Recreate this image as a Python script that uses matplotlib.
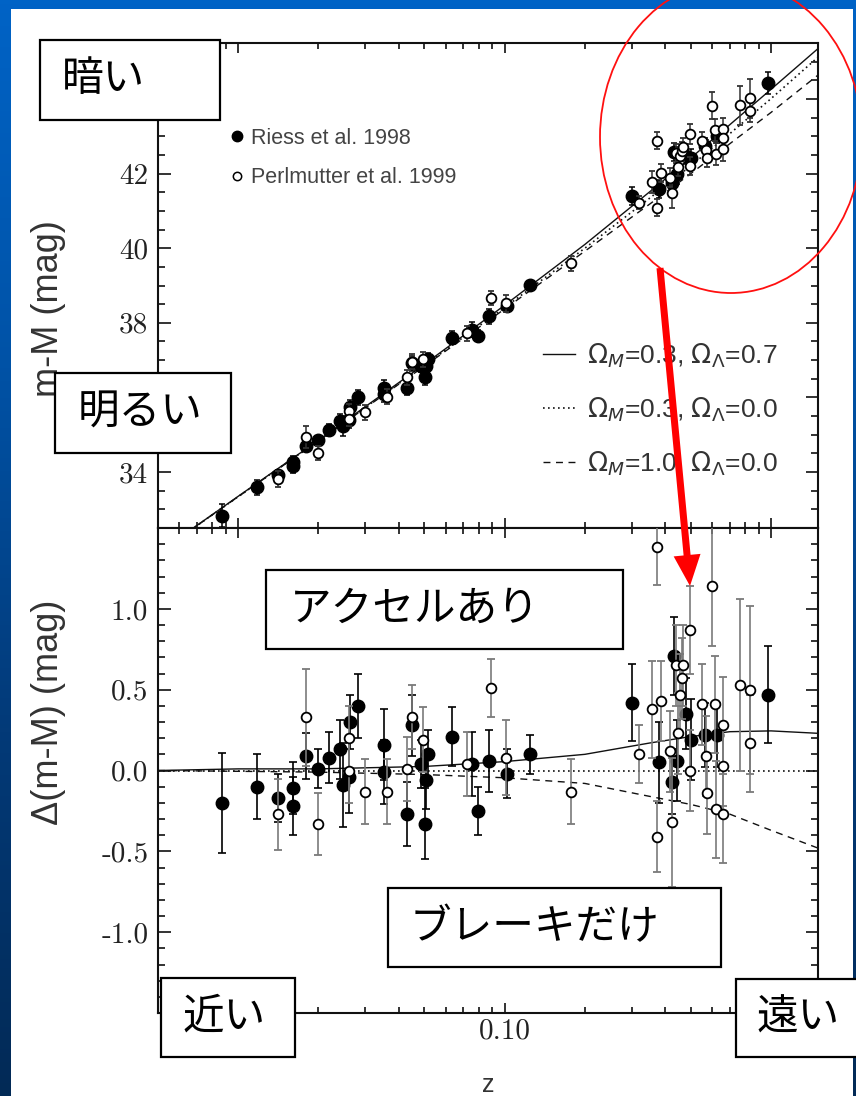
import numpy as np
import matplotlib
matplotlib.use('Agg')
import matplotlib.pyplot as plt
from matplotlib import patches, transforms
from matplotlib.lines import Line2D
from matplotlib.colors import LinearSegmentedColormap
from matplotlib.ticker import FixedLocator, MultipleLocator, NullFormatter, FixedFormatter, LogLocator

# ---------------- data ----------------
riess_z = [0.0087, 0.0118, 0.0141, 0.0161, 0.0161, 0.0180, 0.0200, 0.0219, 0.0241, 0.0248,
           0.0261, 0.0263, 0.0282, 0.0353, 0.0354, 0.0430, 0.0450, 0.0486, 0.0503, 0.0507,
           0.0516, 0.0635, 0.0755, 0.0795, 0.0875, 0.1022, 0.1247, 0.301, 0.380, 0.425,
           0.4325, 0.444, 0.480, 0.501, 0.565, 0.627, 0.974]
riess_mu = [32.83, 33.59, 33.91, 34.26, 34.15, 34.70, 34.85, 35.12, 35.38, 35.23,
            35.39, 35.75, 36.00, 36.25, 36.09, 36.26, 36.91, 36.84, 36.55, 36.83,
            37.03, 37.60, 37.82, 37.65, 38.17, 38.44, 39.01, 41.39, 41.59, 41.74,
            42.57, 41.98, 42.47, 42.41, 42.75, 43.01, 44.42]
riess_dmu = [-0.20, -0.10, -0.17, -0.11, -0.22, 0.09, 0.01, 0.08, 0.13, -0.09,
             -0.04, 0.30, 0.40, 0.16, -0.01, -0.27, 0.28, 0.04, -0.33, -0.06,
             0.10, 0.21, 0.04, -0.25, 0.06, -0.02, 0.10, 0.42, 0.05, -0.07,
             0.71, 0.06, 0.35, 0.19, 0.22, 0.22, 0.47]
riess_err = [0.31, 0.20, 0.15, 0.16, 0.18, 0.14, 0.12, 0.16, 0.18, 0.26,
             0.22, 0.17, 0.20, 0.22, 0.20, 0.20, 0.19, 0.15, 0.22, 0.18,
             0.15, 0.18, 0.20, 0.15, 0.19, 0.15, 0.12, 0.24, 0.25, 0.20,
             0.24, 0.25, 0.22, 0.25, 0.20, 0.20, 0.30]

perl_z = [0.0141, 0.0180, 0.0200, 0.0261, 0.0261, 0.0300, 0.0362, 0.0430, 0.0450, 0.0494,
          0.0723, 0.0890, 0.1013, 0.1776, 0.320, 0.358, 0.373, 0.373, 0.387, 0.418,
          0.425, 0.4385, 0.448, 0.455, 0.463, 0.4675, 0.496, 0.4966, 0.551, 0.570,
          0.575, 0.6005, 0.6166, 0.622, 0.658, 0.658, 0.658, 0.765, 0.834, 0.834]
perl_mu = [33.81, 34.94, 34.51, 35.63, 35.43, 35.60, 36.02, 36.54, 36.96, 37.02,
           37.72, 38.66, 38.52, 39.60, 41.22, 41.77, 42.88, 41.09, 42.02, 41.89,
           41.49, 42.54, 42.18, 42.46, 42.60, 42.70, 42.20, 43.07, 42.87, 42.64,
           42.43, 43.82, 43.16, 42.53, 43.20, 42.95, 42.65, 43.83, 44.02, 43.69]
perl_dmu = [-0.27, 0.33, -0.33, 0.20, 0.00, -0.13, -0.13, 0.01, 0.33, 0.19,
            0.04, 0.51, 0.08, -0.13, 0.10, 0.38, 1.38, -0.41, 0.43, 0.12,
            -0.32, 0.65, 0.23, 0.47, 0.57, 0.65, 0.00, 0.87, 0.41, 0.09,
            -0.14, 1.14, 0.41, -0.24, 0.28, 0.03, -0.27, 0.53, 0.50, 0.17]
perl_err = [0.22, 0.30, 0.19, 0.20, 0.20, 0.20, 0.20, 0.20, 0.20, 0.20,
            0.20, 0.18, 0.23, 0.20, 0.18, 0.30, 0.23, 0.22, 0.25, 0.25,
            0.40, 0.25, 0.25, 0.25, 0.25, 0.25, 0.25, 0.27, 0.25, 0.25,
            0.25, 0.37, 0.30, 0.30, 0.30, 0.25, 0.30, 0.53, 0.52, 0.30]

model_z = [0.005, 0.01, 0.02, 0.05, 0.1, 0.2, 0.35, 0.5, 0.7, 1.0, 1.5]
mu_lcdm = [31.83, 33.35, 34.85, 36.89, 38.47, 40.10, 41.51, 42.42, 43.31, 44.26, 45.35]
mu_open = [31.83, 33.34, 34.84, 36.86, 38.41, 40.00, 41.34, 42.21, 43.07, 44.01, 45.12]
mu_eds = [31.83, 33.34, 34.83, 36.84, 38.37, 39.92, 41.18, 42.00, 42.80, 43.64, 44.64]
d_lcdm = [0.0, 0.01, 0.01, 0.025, 0.055, 0.10, 0.17, 0.21, 0.24, 0.245, 0.23]
d_open = [0.0, 0.0, 0.0, 0.0, 0.0, 0.0, 0.0, 0.0, 0.0, 0.0, 0.0]
d_eds = [0.0, -0.005, -0.01, -0.025, -0.045, -0.08, -0.16, -0.21, -0.27, -0.37, -0.48]

data_labels = ['Riess et al. 1998', 'Perlmutter et al. 1999']
model_labels = [r'$\Omega_M$=0.3, $\Omega_\Lambda$=0.7',
                r'$\Omega_M$=0.3, $\Omega_\Lambda$=0.0',
                r'$\Omega_M$=1.0, $\Omega_\Lambda$=0.0']
xtick_vals = [0.01, 0.1, 1.0]
xtick_labels = ['', '0.10', '']          # 0.01 and 1.00 sit under the slide boxes
top_yticks = [34, 36, 38, 40, 42, 44]
top_yticklabels = ['34', '', '38', '40', '42', '']   # 36 and 44 sit under the slide boxes
bot_yticks = [-1.0, -0.5, 0.0, 0.5, 1.0]
bot_yticklabels = ['-1.0', '-0.5', '0.0', '0.5', '1.0']

notes = ['暗い', '明るい', 'アクセルあり', 'ブレーキだけ', '近い', '遠い']

# ---------------- figure ----------------
W, H = 856, 1096
plt.rcParams['axes.unicode_minus'] = False
plt.rcParams['mathtext.fontset'] = 'dejavusans'

fig = plt.figure(figsize=(W / 100, H / 100), dpi=100)

def fx(px):
    return px / W

def fy(py):
    return 1 - py / H

# blue slide background
bg = fig.add_axes([0, 0, 1, 1], zorder=-10)
grad = np.linspace(0, 1, 256).reshape(-1, 1)
cmap = LinearSegmentedColormap.from_list('bg', ['#0063c6', '#0052a6', '#033a78', '#022a56'])
bg.imshow(grad, aspect='auto', cmap=cmap, extent=[0, 1, 0, 1], origin='upper')
bg.set_axis_off()

fig.add_artist(patches.Rectangle((fx(11), 0), fx(853) - fx(11), fy(9),
                                 transform=fig.transFigure, facecolor='white',
                                 edgecolor='none', zorder=-5))

axw = fx(818) - fx(158)
axh = 485 / H
ax1 = fig.add_axes([fx(158), fy(528), axw, axh])
ax2 = fig.add_axes([fx(158), fy(1013), axw, axh])

ink = '#111111'
tickfont = 'cmr10'
for ax in (ax1, ax2):
    ax.set_xscale('log')
    ax.set_xlim(0.005, 1.5)
    for s in ax.spines.values():
        s.set_linewidth(1.5)
        s.set_color(ink)
    ax.tick_params(which='both', direction='in', top=True, right=True, bottom=True, left=True,
                   color=ink, width=1.2, labelsize=21, labelfontfamily=tickfont, labelcolor='#222222')
    ax.tick_params(axis='y', which='major', length=9, pad=7)
    ax.tick_params(axis='y', which='minor', length=5)
    ax.tick_params(axis='x', which='major', length=7)
    ax.tick_params(axis='x', which='minor', length=4)
    ax.xaxis.set_major_locator(FixedLocator(xtick_vals))
    ax.xaxis.set_minor_locator(LogLocator(base=10, subs=np.arange(2, 10), numticks=20))
    ax.xaxis.set_minor_formatter(NullFormatter())

ax1.xaxis.set_major_formatter(NullFormatter())
ax2.xaxis.set_major_formatter(FixedFormatter(xtick_labels))

# ----- top panel -----
ax1.set_ylim(32.5, 45.5)
ax1.yaxis.set_major_locator(FixedLocator(top_yticks))
ax1.yaxis.set_minor_locator(MultipleLocator(0.5))
ax1.yaxis.set_major_formatter(FixedFormatter(top_yticklabels))

ax1.plot(model_z, mu_lcdm, color=ink, lw=1.0, ls='-')
ax1.plot(model_z, mu_open, color=ink, lw=1.2, ls=(0, (1, 2)))
ax1.plot(model_z, mu_eds, color=ink, lw=1.0, ls=(0, (5, 4)))

ax1.errorbar(riess_z, riess_mu, yerr=riess_err, fmt='o', ms=9, mfc='k', mec='k',
             ecolor='k', elinewidth=1.1, capsize=2.5, capthick=1.1, zorder=3)
ax1.errorbar(perl_z, perl_mu, yerr=perl_err, fmt='o', ms=7, mfc='white', mec='k', mew=1.3,
             ecolor='#333333', elinewidth=1.1, capsize=2.5, capthick=1.1, zorder=4)

ax1.set_ylabel('m-M (mag)', fontsize=26, fontfamily='Liberation Sans', color='#333333')
ax1.yaxis.set_label_coords((66 - 158) / 660, 1 - (309 - 43) / 485)

h_data = [Line2D([], [], ls='', marker='o', ms=7.5, mfc='k', mec='k'),
          Line2D([], [], ls='', marker='o', ms=6, mfc='white', mec='k', mew=1.1)]
leg1 = ax1.legend(h_data, data_labels, loc='upper left', frameon=False,
                  bbox_to_anchor=(fx(231), fy(128)), bbox_transform=fig.transFigure,
                  borderpad=0, borderaxespad=0, handlelength=0.6, handletextpad=0.35,
                  labelspacing=0.85, prop={'family': 'Liberation Sans', 'size': 15.5})
for t in leg1.get_texts():
    t.set_color('#444444')
ax1.add_artist(leg1)

h_model = [Line2D([], [], color=ink, lw=1.0, ls='-'),
           Line2D([], [], color=ink, lw=1.2, ls=(0, (1, 2))),
           Line2D([], [], color=ink, lw=1.0, ls=(0, (5, 4)))]
leg2 = ax1.legend(h_model, model_labels, loc='upper left', frameon=False,
                  bbox_to_anchor=(fx(543), fy(341)), bbox_transform=fig.transFigure,
                  borderpad=0, borderaxespad=0, handlelength=1.2, handletextpad=0.45,
                  labelspacing=0.98, prop={'family': 'Liberation Sans', 'size': 19})
for t in leg2.get_texts():
    t.set_color('#333333')

# ----- bottom panel -----
ax2.set_ylim(-1.5, 1.5)
ax2.yaxis.set_major_locator(FixedLocator(bot_yticks))
ax2.yaxis.set_major_formatter(FixedFormatter(bot_yticklabels))
ax2.yaxis.set_minor_locator(MultipleLocator(0.1))

ax2.plot(model_z, d_lcdm, color=ink, lw=1.0, ls='-')
ax2.plot(model_z, d_open, color=ink, lw=1.2, ls=(0, (1, 2)))
ax2.plot(model_z, d_eds, color=ink, lw=1.0, ls=(0, (5, 4)))

ax2.errorbar(riess_z, riess_dmu, yerr=riess_err, fmt='o', ms=9, mfc='k', mec='k',
             ecolor='k', elinewidth=1.2, capsize=3, capthick=1.2, zorder=3)
ax2.errorbar(perl_z, perl_dmu, yerr=perl_err, fmt='o', ms=7, mfc='white', mec='k', mew=1.3,
             ecolor='#7a7a7a', elinewidth=1.2, capsize=3, capthick=1.2, zorder=4)

ax2.set_ylabel('Δ(m-M) (mag)', fontsize=26, fontfamily='Liberation Sans', color='#333333')
ax2.yaxis.set_label_coords((66 - 158) / 660, 1 - (712 - 528) / 485)
ax2.set_xlabel('z', fontsize=18, fontfamily='Liberation Sans', color='#333333')
ax2.xaxis.set_label_coords(0.5, (1013 - 1073) / 485)

# ----- slide annotations -----
boxes = [(40, 40, 220, 120, 62), (55, 373, 231, 453, 78), (266, 570, 623, 649, 290),
         (388, 888, 721, 967, 410), (161, 978, 295, 1057, 182), (736, 979, 870, 1057, 757)]
for (x0, y0, x1, y1, tx), label in zip(boxes, notes):
    fig.add_artist(patches.Rectangle((fx(x0), fy(y1)), fx(x1) - fx(x0), fy(y0) - fy(y1),
                                     transform=fig.transFigure, facecolor='white',
                                     edgecolor='black', lw=1.6, zorder=5))
    fig.text(fx(tx), fy((y0 + y1) / 2), label, fontsize=30, family='Noto Sans CJK JP',
             ha='left', va='center', color='black', zorder=6)

# red ellipse
fig.add_artist(patches.Ellipse((fx(731), fy(137)), 262 / W, 312 / H, transform=fig.transFigure,
                               facecolor='none', edgecolor='#ff1010', lw=1.3, zorder=7))
# red arrow (pixel coordinates)
flip = transforms.Affine2D().scale(1, -1).translate(0, H)
fig.add_artist(patches.FancyArrow(660, 268, 30, 318, width=7, head_width=27, head_length=31,
                                  length_includes_head=True, transform=flip,
                                  facecolor='#ff0000', edgecolor='none', zorder=7))

fig.savefig('out.png', dpi=100)
